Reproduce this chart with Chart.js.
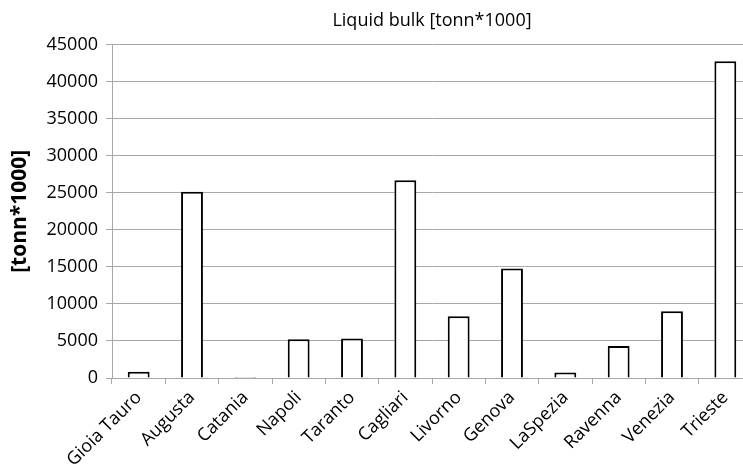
<!DOCTYPE html>
<html>
<head>
<meta charset="utf-8">
<script src="https://cdn.jsdelivr.net/npm/chart.js@4/dist/chart.umd.min.js"></script>
<style>
  html, body { margin: 0; padding: 0; background: #fff; overflow: hidden; }
  #wrap { position: relative; width: 752px; height: 469px; }
</style>
</head>
<body>
<div id="wrap"><canvas id="c"></canvas></div>
<script>
// Liquid bulk throughput per port, thousands of tonnes
const ports = ['Gioia Tauro', 'Augusta', 'Catania', 'Napoli', 'Taranto', 'Cagliari',
               'Livorno', 'Genova', 'LaSpezia', 'Ravenna', 'Venezia', 'Trieste'];
const liquidBulk = [860, 25150, 120, 5230, 5320, 26700, 8340, 14780, 730, 4320, 9010, 42760];
const yTicks = [0, 5000, 10000, 15000, 20000, 25000, 30000, 35000, 40000, 45000];

const FONT = "'Open Sans', 'Liberation Sans', sans-serif";
const GRID = '#a8a8a8';

const whiteBg = {
  id: 'whiteBg',
  beforeDraw(chart) {
    const { ctx, width, height } = chart;
    ctx.save();
    ctx.fillStyle = '#fff';
    ctx.fillRect(0, 0, width, height);
    ctx.restore();
  }
};

new Chart(document.getElementById('c'), {
  type: 'bar',
  data: {
    labels: ports,
    datasets: [{
      label: 'Liquid bulk [tonn*1000]',
      data: liquidBulk,
      backgroundColor: '#ffffff',
      borderColor: '#000000',
      borderWidth: 2,
      categoryPercentage: 1,
      barPercentage: 0.41
    }]
  },
  options: {
    responsive: true,
    maintainAspectRatio: false,
    animation: false,
    layout: { padding: 0 },
    plugins: {
      legend: { display: false },
      tooltip: { enabled: false },
      title: {
        display: true,
        fullSize: false,
        text: 'Liquid bulk [tonn*1000]',
        color: '#000',
        font: { family: FONT, size: 18, weight: 'normal', lineHeight: 1.2 },
        padding: { top: 10, bottom: 13 }
      }
    },
    scales: {
      x: {
        offset: true,
        afterFit(scale) { scale.height = 91; },
        grid: {
          offset: true,
          drawOnChartArea: false,
          drawTicks: true,
          tickLength: 6,
          color: GRID
        },
        border: { display: true, color: GRID, width: 1 },
        ticks: {
          color: '#000',
          maxRotation: 45,
          minRotation: 45,
          autoSkip: false,
          padding: 3,
          font: { family: FONT, size: 18 }
        }
      },
      y: {
        min: 0,
        max: 45000,
        afterFit(scale) { scale.width = 112; },
        afterBuildTicks(scale) { scale.ticks = yTicks.map(v => ({ value: v })); },
        grid: {
          color: GRID,
          lineWidth: 1,
          drawTicks: true,
          tickLength: 6
        },
        border: { display: true, color: GRID, width: 1 },
        ticks: {
          color: '#000',
          padding: 8,
          font: { family: FONT, size: 18 },
          callback: v => String(v)
        },
        title: {
          display: true,
          text: '[tonn*1000]',
          color: '#000',
          font: { family: FONT, size: 21, weight: 'bold' },
          padding: { top: 7, bottom: 0 }
        }
      }
    }
  },
  plugins: [whiteBg]
});
</script>
</body>
</html>
